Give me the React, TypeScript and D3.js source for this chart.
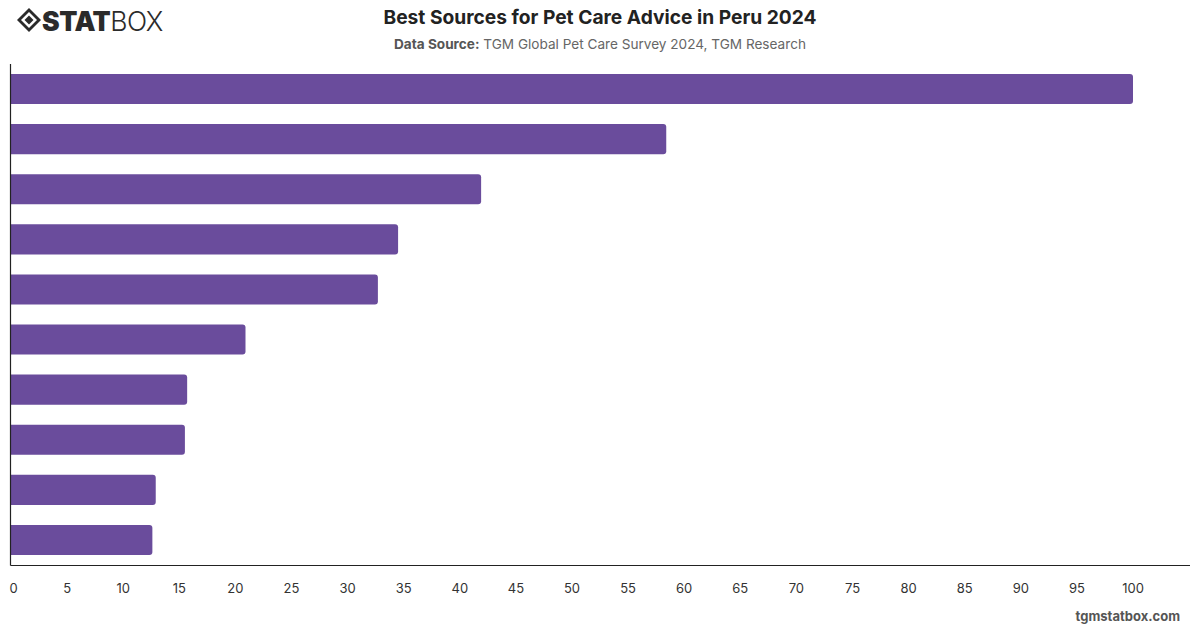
import { useRef, useEffect } from 'react';
import * as d3 from 'd3';

// Survey answers, ranked (share index, top answer = 100)
const sources = [
  'Veterinarian',
  'Internet search',
  'Family and friends',
  'Social media',
  'Pet store staff',
  'Pet care websites',
  'Books and magazines',
  'Breeders',
  'Online forums',
  'TV programmes',
];
const values = [100, 58.4, 41.9, 34.5, 32.7, 20.9, 15.7, 15.5, 12.9, 12.6];
const xTicks = d3.range(0, 101, 5);

const title = 'Best Sources for Pet Care Advice in Peru 2024';
const sourceLabel = 'Data Source:';
const sourceText = ' TGM Global Pet Care Survey 2024, TGM Research';
const footer = 'tgmstatbox.com';

const barColor = '#6a4c9c';
const font = 'Inter, "Noto Sans", sans-serif';

function App() {
  const svgRef = useRef<SVGSVGElement>(null);
  const width = 1200;
  const height = 628;

  useEffect(() => {
    const margin = { top: 64, right: 10, bottom: 63, left: 11 };
    const svg = d3.select(svgRef.current);
    svg.selectAll('*').remove();

    const x = d3
      .scaleLinear()
      .domain([0, 100])
      .range([margin.left, 1133]);

    const y = d3
      .scaleBand<string>()
      .domain(sources)
      .range([margin.top, height - margin.bottom])
      .paddingInner(0.4)
      .paddingOuter(0.2);

    const data = sources.map((s, i) => ({ source: s, value: values[i] }));

    // bars with rounded right end
    const r = 3;
    svg
      .append('g')
      .selectAll('path')
      .data(data)
      .join('path')
      .attr('fill', barColor)
      .attr('d', (d) => {
        const x0 = x(0);
        const x1 = x(d.value);
        const y0 = y(d.source)!;
        const h = y.bandwidth();
        return `M${x0},${y0}H${x1 - r}Q${x1},${y0} ${x1},${y0 + r}V${y0 + h - r}Q${x1},${y0 + h} ${x1 - r},${y0 + h}H${x0}Z`;
      });

    // axes lines
    const axisY = height - margin.bottom;
    svg
      .append('line')
      .attr('x1', margin.left - 0.5)
      .attr('x2', width - margin.right)
      .attr('y1', axisY + 0.5)
      .attr('y2', axisY + 0.5)
      .attr('stroke', '#222')
      .attr('stroke-width', 1.2);

    svg
      .append('line')
      .attr('x1', margin.left - 0.5)
      .attr('x2', margin.left - 0.5)
      .attr('y1', margin.top)
      .attr('y2', axisY + 0.5)
      .attr('stroke', '#222')
      .attr('stroke-width', 1.2);

    svg
      .append('g')
      .selectAll('text')
      .data(xTicks)
      .join('text')
      .attr('x', (d) => x(d) + (d === 0 ? 2.5 : 0))
      .attr('y', axisY + 28)
      .attr('text-anchor', 'middle')
      .attr('fill', '#333')
      .style('font-family', font)
      .style('font-size', '13px')
      .text((d) => d);

    // title block
    svg
      .append('text')
      .attr('x', 600)
      .attr('y', 24)
      .attr('text-anchor', 'middle')
      .attr('fill', '#222')
      .style('font-family', font)
      .style('font-size', '19.2px')
      .style('font-weight', 700)
      .text(title);

    const sub = svg
      .append('text')
      .attr('x', 600)
      .attr('y', 49)
      .attr('text-anchor', 'middle')
      .attr('fill', '#666')
      .style('font-family', font)
      .style('font-size', '13.6px');
    sub.append('tspan').attr('font-weight', 700).attr('fill', '#555').text(sourceLabel);
    sub.append('tspan').text(sourceText);

    svg
      .append('text')
      .attr('x', 1180)
      .attr('y', 621)
      .attr('text-anchor', 'end')
      .attr('fill', '#555')
      .style('font-family', font)
      .style('font-size', '13px')
      .style('font-weight', 700)
      .text(footer);

    // logo
    const logo = svg.append('g').attr('transform', 'translate(17,8)');
    logo
      .append('path')
      .attr('d', 'M12,0 L24,12 L12,24 L0,12 Z')
      .attr('fill', '#2b2b2b');
    logo
      .append('path')
      .attr('d', 'M12,4 L20,12 L12,20 L4,12 Z')
      .attr('fill', '#fff');
    logo
      .append('path')
      .attr('d', 'M12,7.5 L16.5,12 L12,16.5 L7.5,12 Z')
      .attr('fill', '#2b2b2b');
    const logoText = logo
      .append('text')
      .attr('x', 25)
      .attr('y', 22.5)
      .attr('fill', '#2b2b2b')
      .style('font-family', font)
      .style('font-size', '26.5px')
      .style('letter-spacing', '-0.5px');
    logoText.append('tspan').attr('font-weight', 900).text('STAT');
    logoText.append('tspan').attr('font-weight', 300).text('BOX');
  }, []);

  return (
    <svg
      ref={svgRef}
      width={width}
      height={height}
      style={{ position: 'absolute', left: 0, top: 0, background: '#fff' }}
    ></svg>
  );
}

export default App;
